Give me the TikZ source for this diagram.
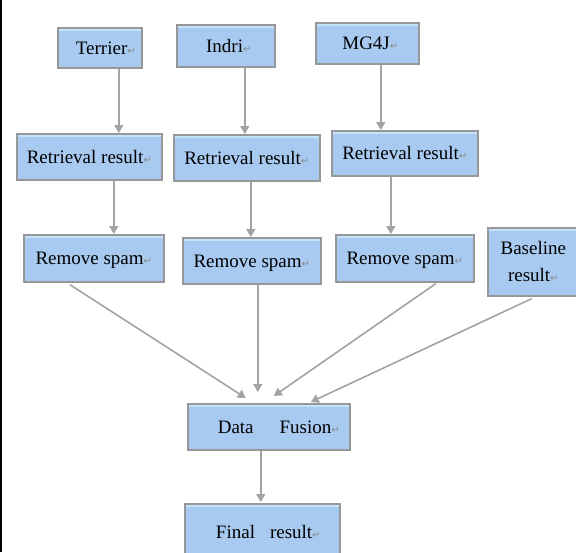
\documentclass[tikz,border=0pt]{standalone}
\usepackage{fontspec}
\setmainfont{Liberation Serif}
\newfontfamily\symfont{DejaVu Sans}
\usetikzlibrary{arrows.meta}
\definecolor{boxfill}{HTML}{A8CAF0}
\definecolor{boxline}{HTML}{979797}
\definecolor{arrline}{HTML}{A3A3A3}
\definecolor{retcol}{HTML}{8A8A8A}
\definecolor{topline}{HTML}{C4E2FA}
\newcommand{\retmark}{{\symfont\fontsize{10}{10}\selectfont\textcolor{retcol}{↵}}}
\begin{document}
\begin{tikzpicture}[x=1pt,y=-1pt,
  box/.style={draw=boxline, line width=1.6pt, fill=boxfill, inner sep=0pt,
    anchor=north west, font=\fontsize{19}{22}\selectfont,
    text height=13pt, text depth=0pt,
    path picture={\draw[topline,line width=2pt]
      ([yshift=-2.5pt]path picture bounding box.north west) --
      ([yshift=-2.5pt]path picture bounding box.north east);}},
  arr/.style={draw=arrline, line width=1.6pt, -{Triangle[length=8pt,width=9pt]}}]
\useasboundingbox (0,0) rectangle (576,552);
\draw[black, line width=1.5pt] (1.2,0) -- (1.2,552);

% top row
\node[box, minimum width=84pt, minimum height=40pt] (T) at (57,27) {\hspace*{12pt}Terrier\retmark};
\node[box, minimum width=98pt, minimum height=42pt] (I) at (176,24) {\hspace*{6pt}Indri\retmark};
\node[box, minimum width=103pt, minimum height=41pt] (M) at (315,22) {\hspace*{6pt}MG4J\retmark};

% retrieval row
\node[box, minimum width=145pt, minimum height=46pt] (R1) at (16,133) {Retrieval result\retmark};
\node[box, minimum width=146pt, minimum height=46pt] (R2) at (173,134) {Retrieval result\retmark};
\node[box, minimum width=146pt, minimum height=45pt] (R3) at (331,130) {Retrieval result\retmark};

% spam row
\node[box, minimum width=140pt, minimum height=47pt] (S1) at (23,234) {Remove spam\retmark};
\node[box, minimum width=138pt, minimum height=46pt] (S2) at (182,237) {Remove spam\retmark};
\node[box, minimum width=138pt, minimum height=47pt] (S3) at (335,234) {Remove spam\retmark};
\node[box, minimum width=91pt, minimum height=68pt, align=center,
      text height=, text depth=, font=\fontsize{19}{27}\selectfont] (B) at (487,227) {Baseline\\result\retmark};

% fusion and final
\node[box, minimum width=162pt, minimum height=46pt] (DF) at (187,403) {\hspace*{20pt}Data\hspace{26pt}Fusion\retmark};
\node[box, minimum width=155pt, minimum height=57pt] (F) at (184,503) {\hspace*{12pt}Final\hspace{15pt}result\retmark};

% connectors
\draw[arr] ([xshift=19pt]T.south) -- ([xshift=29.5pt]R1.north);
\draw[arr] ([xshift=19pt]I.south) -- ([xshift=-2pt]R2.north);
\draw[arr] ([xshift=13.5pt]M.south) -- ([xshift=-24pt]R3.north);
\draw[arr] ([xshift=24.5pt]R1.south) -- ([xshift=20pt]S1.north);
\draw[arr] ([xshift=4pt]R2.south) -- ([xshift=-1pt]S2.north);
\draw[arr] ([xshift=-14pt]R3.south) -- ([xshift=-14pt]S3.north);
\draw[arr] ([xshift=-24pt,yshift=-2pt]S1.south) -- ([xshift=-23pt,yshift=5pt]DF.north);
\draw[arr] ([xshift=6pt]S2.south) -- ([xshift=-11pt,yshift=11pt]DF.north);
\draw[arr] ([xshift=31pt,yshift=-1pt]S3.south) -- ([xshift=5pt,yshift=7pt]DF.north);
\draw[arr] ([xshift=-1.5pt,yshift=-2pt]B.south) -- ([xshift=42pt,yshift=1pt]DF.north);
\draw[arr] ([xshift=-8pt]DF.south) -- ([xshift=-1.5pt,yshift=1pt]F.north);
\end{tikzpicture}
\end{document}
